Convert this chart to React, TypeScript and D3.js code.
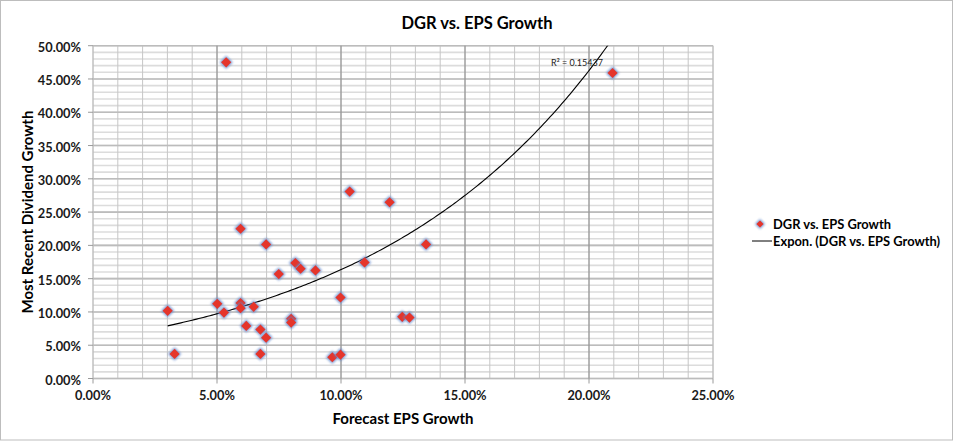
import React, { useEffect } from 'react';
import * as d3 from 'd3';

// ---- data ----
const epsGrowth = [
  0.0301, 0.0329, 0.0501, 0.0528, 0.0537, 0.0595, 0.0595, 0.0595, 0.0618, 0.0648,
  0.0675, 0.0675, 0.0698, 0.0698, 0.0749, 0.0799, 0.0799, 0.0816, 0.0837, 0.0897,
  0.0965, 0.0998, 0.0998, 0.1035, 0.1095, 0.1196, 0.1247, 0.1276, 0.1343, 0.2095,
];
const dividendGrowth = [
  0.1017, 0.0369, 0.1122, 0.0991, 0.475, 0.225, 0.1133, 0.1057, 0.079, 0.1077,
  0.0735, 0.0369, 0.0614, 0.2015, 0.1569, 0.0896, 0.084, 0.1735, 0.1649, 0.1623,
  0.0319, 0.1217, 0.0358, 0.2809, 0.1744, 0.2648, 0.0926, 0.0916, 0.2015, 0.459,
];
const xTicks = [0, 0.05, 0.1, 0.15, 0.2, 0.25];
const yTicks = [0, 0.05, 0.1, 0.15, 0.2, 0.25, 0.3, 0.35, 0.4, 0.45, 0.5];
const xMinorStep = 0.01;
const yMinorStep = 0.01;
// exponential trendline y = a * e^(b x), as drawn in the reference
const trendA = 0.0578;
const trendB = 10.4;
const rSquaredLabel = 'R² = 0.15437';
const chartTitle = 'DGR vs. EPS Growth';
const xTitle = 'Forecast EPS Growth';
const yTitle = 'Most Recent Dividend Growth';
const seriesName = 'DGR vs. EPS Growth';
const trendName = 'Expon. (DGR vs. EPS Growth)';

const W = 956;
const H = 441;
const FONT = "Lato, 'Open Sans', sans-serif";

export default function App() {
  useEffect(() => {
    document.body.style.margin = '0';
  }, []);

  const left = 93;
  const right = 713;
  const top = 45.7;
  const bottom = 378.5;

  const x = d3.scaleLinear().domain([0, 0.25]).range([left, right]);
  const y = d3.scaleLinear().domain([0, 0.5]).range([bottom, top]);
  const fmt = d3.format('.2%');

  const xMinor = d3.range(0, 0.25 + 1e-9, xMinorStep);
  const yMinor = d3.range(0, 0.5 + 1e-9, yMinorStep);

  const xMin = d3.min(epsGrowth) as number;
  const xMax = d3.max(epsGrowth) as number;
  const samples = d3.range(0, 201).map((i) => xMin + ((xMax - xMin) * i) / 200);
  const trendPath = d3
    .line<number>()
    .x((v) => x(v))
    .y((v) => y(trendA * Math.exp(trendB * v)))(samples) as string;

  const diamond = d3.symbol().type(d3.symbolSquare).size(52)() as string;
  const halo = d3.symbol().type(d3.symbolSquare).size(86)() as string;

  return (
    <div style={{ position: 'absolute', left: 0, top: 0 }}>
      <svg width={W} height={H} style={{ display: 'block', background: '#fff' }}>
        <defs>
          <clipPath id="plotClip">
            <rect x={left} y={top} width={right - left} height={bottom - top} />
          </clipPath>
          <filter id="glow" x="-50%" y="-50%" width="200%" height="200%">
            <feGaussianBlur stdDeviation="0.9" />
          </filter>
        </defs>
        <rect x={0.5} y={0.5} width={952} height={439.5} fill="#fff" stroke="#bdbdbd" strokeWidth={1} />

        {/* minor gridlines */}
        {yMinor.map((v, i) => (
          <line key={'ym' + i} x1={left} x2={right} y1={y(v)} y2={y(v)} stroke="#dcdcdc" strokeWidth={1.6} />
        ))}
        {xMinor.map((v, i) => (
          <line key={'xm' + i} x1={x(v)} x2={x(v)} y1={top} y2={bottom} stroke="#c6c6c6" strokeWidth={1} />
        ))}
        {/* major gridlines */}
        {yTicks.map((v, i) => (
          <line key={'yM' + i} x1={left} x2={right} y1={y(v)} y2={y(v)} stroke="#bcbcbc" strokeWidth={1.6} />
        ))}
        {xTicks.map((v, i) => (
          <line key={'xM' + i} x1={x(v)} x2={x(v)} y1={top} y2={bottom}
            stroke={i === 0 || i === xTicks.length - 1 ? '#bcbcbc' : '#8a8a8a'} strokeWidth={1} />
        ))}

        {/* axis ticks */}
        {yTicks.map((v, i) => (
          <line key={'yt' + i} x1={left - 5} x2={left} y1={y(v)} y2={y(v)} stroke="#9a9a9a" strokeWidth={1} />
        ))}
        {xTicks.map((v, i) => (
          <line key={'xt' + i} x1={x(v)} x2={x(v)} y1={bottom} y2={bottom + 5} stroke="#9a9a9a" strokeWidth={1} />
        ))}

        {/* tick labels */}
        {yTicks.map((v, i) => (
          <text key={'yl' + i} x={81} y={y(v) + 6} textAnchor="end" fontFamily={FONT} fontWeight="bold"
            fontSize={12.8} fill="#1a1a1a">
            {fmt(v)}
          </text>
        ))}
        {xTicks.map((v, i) => (
          <text key={'xl' + i} x={x(v)} y={400} textAnchor="middle" fontFamily={FONT} fontWeight="bold"
            fontSize={12.8} fill="#1a1a1a">
            {fmt(v)}
          </text>
        ))}

        {/* trendline */}
        <path d={trendPath} fill="none" stroke="#000" strokeWidth={1.1} clipPath="url(#plotClip)" />

        {/* markers */}
        {epsGrowth.map((v, i) => (
          <g key={'p' + i} transform={`translate(${x(v)},${y(dividendGrowth[i])}) rotate(45)`}>
            <path d={halo} fill="#5f86cc" opacity={0.85} filter="url(#glow)" />
            <path d={diamond} fill="#e5352b" />
          </g>
        ))}

        {/* R² label */}
        <text x={551} y={66} fontFamily={FONT} fontSize={9} fill="#222">
          {rSquaredLabel}
        </text>

        {/* titles */}
        <text x={477} y={29} textAnchor="middle" fontFamily={FONT} fontWeight="bold" fontSize={16.5} fill="#000">
          {chartTitle}
        </text>
        <text x={403} y={424} textAnchor="middle" fontFamily={FONT} fontWeight="bold" fontSize={15} fill="#000">
          {xTitle}
        </text>
        <text transform={`translate(33,${(top + bottom) / 2}) rotate(-90)`} textAnchor="middle" fontFamily={FONT}
          fontWeight="bold" fontSize={15} fill="#000">
          {yTitle}
        </text>

        {/* legend */}
        <g transform="translate(760,224) rotate(45)">
          <path d={d3.symbol().type(d3.symbolSquare).size(50)() as string} fill="#5f86cc" opacity={0.85} filter="url(#glow)" />
          <path d={d3.symbol().type(d3.symbolSquare).size(26)() as string} fill="#e5352b" />
        </g>
        <text x={773} y={228.5} fontFamily={FONT} fontWeight="bold" fontSize={12.9} fill="#000">
          {seriesName}
        </text>
        <line x1={752} x2={772} y1={241} y2={241} stroke="#000" strokeWidth={1} />
        <text x={773} y={245.5} fontFamily={FONT} fontWeight="bold" fontSize={12.9} fill="#000">
          {trendName}
        </text>
      </svg>
    </div>
  );
}
